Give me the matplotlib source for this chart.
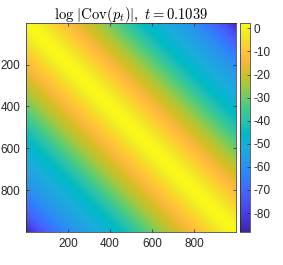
import numpy as np
import matplotlib
matplotlib.use('Agg')
import matplotlib.pyplot as plt
from matplotlib.colors import LinearSegmentedColormap
from matplotlib.transforms import Affine2D

lags = np.arange(0, 1001, 50)
logcov = [2.3, -0.5, -4.5, -9, -13, -17, -21, -25.5, -30, -35, -41,
          -45, -48, -51, -54, -57, -61, -66, -71, -78, -88]
n_grid = 1000
t_value = 0.1039
axis_ticks = [200, 400, 600, 800]
cbar_ticks = [0, -10, -20, -30, -40, -50, -60, -70, -80]
clim = (-88.2, 2.3)

# matlab parula (64 entries)
parula_rgb = [
    [0.2422, 0.1504, 0.6603], [0.2504, 0.1650, 0.7076], [0.2578, 0.1818, 0.7511], [0.2647, 0.1978, 0.7952],
    [0.2706, 0.2147, 0.8364], [0.2751, 0.2342, 0.8710], [0.2783, 0.2559, 0.8991], [0.2803, 0.2782, 0.9221],
    [0.2813, 0.3006, 0.9414], [0.2810, 0.3228, 0.9579], [0.2795, 0.3447, 0.9717], [0.2760, 0.3667, 0.9829],
    [0.2699, 0.3892, 0.9906], [0.2602, 0.4123, 0.9952], [0.2440, 0.4358, 0.9988], [0.2206, 0.4603, 0.9973],
    [0.1963, 0.4847, 0.9892], [0.1834, 0.5074, 0.9798], [0.1786, 0.5289, 0.9682], [0.1764, 0.5499, 0.9520],
    [0.1687, 0.5703, 0.9359], [0.1540, 0.5902, 0.9218], [0.1460, 0.6091, 0.9079], [0.1380, 0.6276, 0.8973],
    [0.1248, 0.6459, 0.8883], [0.1113, 0.6635, 0.8763], [0.0952, 0.6798, 0.8598], [0.0689, 0.6948, 0.8394],
    [0.0297, 0.7082, 0.8163], [0.0036, 0.7203, 0.7917], [0.0067, 0.7312, 0.7660], [0.0433, 0.7411, 0.7394],
    [0.0964, 0.7500, 0.7120], [0.1408, 0.7584, 0.6842], [0.1717, 0.7670, 0.6554], [0.1938, 0.7758, 0.6251],
    [0.2161, 0.7843, 0.5923], [0.2470, 0.7918, 0.5567], [0.2906, 0.7973, 0.5188], [0.3406, 0.8008, 0.4789],
    [0.3909, 0.8029, 0.4354], [0.4456, 0.8024, 0.3909], [0.5044, 0.7993, 0.3480], [0.5616, 0.7942, 0.3045],
    [0.6174, 0.7876, 0.2612], [0.6720, 0.7793, 0.2227], [0.7242, 0.7698, 0.1910], [0.7738, 0.7598, 0.1646],
    [0.8203, 0.7498, 0.1535], [0.8634, 0.7406, 0.1596], [0.9035, 0.7330, 0.1774], [0.9393, 0.7288, 0.2100],
    [0.9728, 0.7298, 0.2394], [0.9956, 0.7434, 0.2371], [0.9970, 0.7659, 0.2199], [0.9952, 0.7893, 0.2028],
    [0.9892, 0.8136, 0.1885], [0.9786, 0.8386, 0.1766], [0.9676, 0.8639, 0.1643], [0.9610, 0.8890, 0.1537],
    [0.9597, 0.9135, 0.1423], [0.9628, 0.9373, 0.1265], [0.9691, 0.9606, 0.1064], [0.9769, 0.9839, 0.0805]]
parula = LinearSegmentedColormap.from_list('parula', parula_rgb, N=256)

plt.rcParams['font.family'] = ['Liberation Sans', 'DejaVu Sans']
plt.rcParams['mathtext.fontset'] = 'cm'
plt.rcParams['axes.unicode_minus'] = False

dark = '#262626'

# the matrix only depends on j-i: draw the lag profile (both signs) and shear it
# onto the (column, row) plane so it runs along the diagonals
prof = np.concatenate([logcov[::-1], logcov[1:]])
step = lags[1] - lags[0]
band = np.vstack([prof, prof])

fig = plt.figure(figsize=(2.83, 2.65), dpi=100)
ax = fig.add_axes([0.092, 0.1245, 0.742, 0.7887])
im = ax.imshow(band, cmap=parula, vmin=clim[0], vmax=clim[1], aspect='auto',
               interpolation='bilinear', origin='lower',
               extent=(-lags[-1] - step / 2, lags[-1] + step / 2, -20, n_grid + 20))
shear = Affine2D(np.array([[1.0, 1.0, 0.0], [0.0, 1.0, 0.0], [0.0, 0.0, 1.0]]))
im.set_transform(shear + ax.transData)
ax.set_xlim(0.5, n_grid + 0.5)
ax.set_ylim(n_grid + 0.5, 0.5)
ax.set_xticks(axis_ticks)
ax.set_yticks(axis_ticks)
ax.tick_params(direction='in', length=2.5, width=0.5, top=True, right=True,
               labelsize=8.5, colors=dark, pad=4)
for s in ax.spines.values():
    s.set_color(dark)
    s.set_linewidth(0.5)
ax.set_title(r'$\log\,|\mathrm{Cov}(p_t)|,\ t = %.4f$' % t_value, fontsize=10.5, pad=3, color='k')

cax = fig.add_axes([0.848, 0.1245, 0.037, 0.7887])
cb = fig.colorbar(im, cax=cax, ticks=cbar_ticks)
cb.ax.tick_params(direction='in', length=2, width=0.5, labelsize=8.5, colors=dark, pad=2)
cb.outline.set_linewidth(0.5)
cb.outline.set_edgecolor(dark)

fig.savefig('out.png', dpi=100)
